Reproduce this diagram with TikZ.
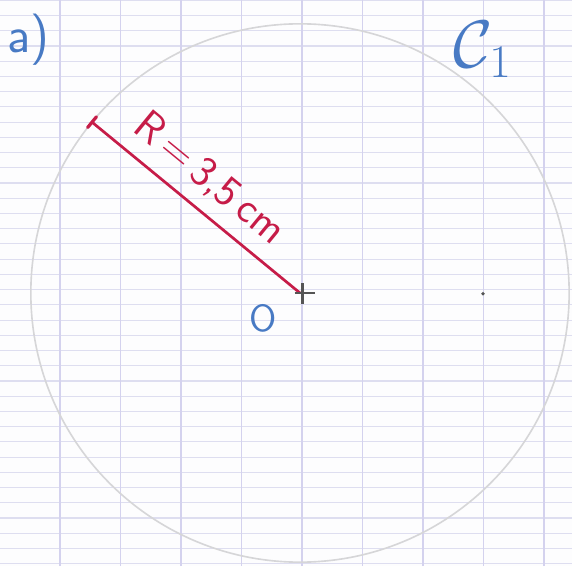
\documentclass[tikz,border=0pt]{standalone}
\usepackage{tikz}
\usepackage{xcolor}
\usetikzlibrary{calc}
\definecolor{paperbg}{RGB}{253,253,254}
\definecolor{gridhline}{RGB}{222,222,240}
\definecolor{gridvline}{RGB}{212,210,238}
\definecolor{pencilgray}{RGB}{214,214,216}
\definecolor{pencildark}{RGB}{85,85,85}
\definecolor{penblue}{RGB}{72,122,196}
\definecolor{penred}{RGB}{198,28,72}

\begin{document}
\begin{tikzpicture}

% 1. SHEET & SEYES GRID
\useasboundingbox (-3.901,-3.550) rectangle (3.537,3.810);
\fill[paperbg] (-3.901,-3.550) rectangle (3.537,3.810);
\foreach \k in {-18,...,19}
  \draw[gridhline, line width=0.4pt] (-3.901,{0.044+0.198*\k}) -- (3.537,{0.044+0.198*\k});
\foreach \k in {-4,...,4}
  \draw[gridvline, line width=0.45pt] ({0.026+0.787*\k},-3.550) -- ({0.026+0.787*\k},3.810);

% 2. CIRCLE C1 (pencil)
\draw[pencilgray, line width=0.6pt] (0,0) circle (3.5cm);
\fill[pencildark] (2.38,-0.01) circle (0.025cm);

% 3. RADIUS
\draw[penred, line width=1pt] (140.6:3.5) -- node[pos=0.47, sloped, above=0.04cm, font=\sffamily\fontsize{16}{18}\selectfont] {R\,=\,3,5\,cm} (0,0);
\draw[penred, line width=1.2pt, line cap=round] ($(140.6:3.5)+(50.6:0.09)$) -- ($(140.6:3.5)+(230.6:0.09)$);

% Centre mark
\draw[pencildark, line width=1.1pt] (-0.07,0) -- (0.2,0);
\draw[pencildark, line width=1.1pt] (0.03,0.13) -- (0.03,-0.14);

% 4. LABELS (blue pen)
\node[penblue, font=\sffamily\fontsize{14}{16}\selectfont] (labelO) at (-0.48,-0.33) {O};
\node[penblue, font=\sffamily\fontsize{19}{21}\selectfont] (labelA) at (-3.53,3.30) {a)};
\node[penblue, font=\fontsize{26}{28}\selectfont] (labelC) at (2.38,3.17) {$\mathcal{C}_1$};

\end{tikzpicture}
\end{document}
